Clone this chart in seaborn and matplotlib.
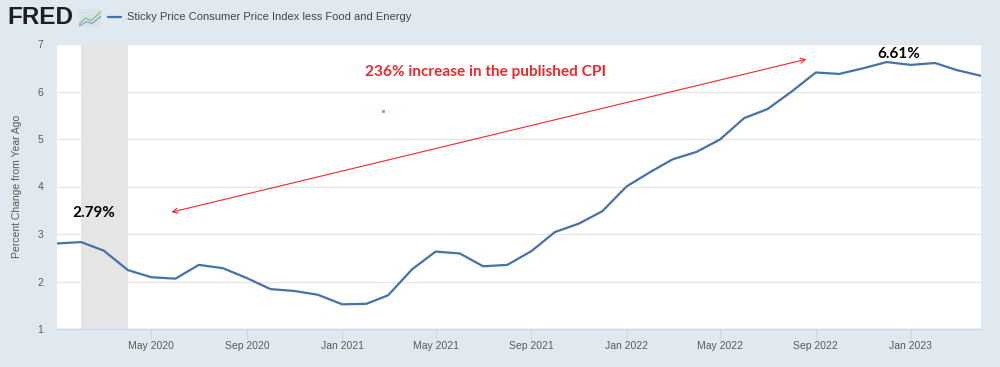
import matplotlib
matplotlib.use("Agg")
import matplotlib.pyplot as plt
import seaborn as sns
import pandas as pd

# ---------------- data ----------------
series_name = "Sticky Price Consumer Price Index less Food and Energy"
months = pd.date_range("2020-01-01", "2023-04-01", freq="MS")
values = [2.80, 2.83, 2.65, 2.24, 2.09, 2.06, 2.35, 2.28, 2.07, 1.84, 1.80, 1.72,
          1.52, 1.53, 1.71, 2.26, 2.63, 2.59, 2.32, 2.35, 2.64, 3.04, 3.22, 3.48,
          4.00, 4.31, 4.57, 4.73, 4.99, 5.44, 5.63, 6.00, 6.40, 6.37, 6.49, 6.62,
          6.56, 6.60, 6.45, 6.33]
tick_dates = pd.date_range("2020-05-01", "2023-01-01", freq="4MS")
tick_labels = [d.strftime("%b %Y") for d in tick_dates]
y_ticks = [1, 2, 3, 4, 5, 6, 7]
recession = (pd.Timestamp("2020-02-01"), pd.Timestamp("2020-04-01"))

headline = "236% increase in the published CPI"
headline_pos = (pd.Timestamp("2021-07-04"), 6.41)
arrow_start = (pd.Timestamp("2020-05-27"), 3.46)
arrow_end = (pd.Timestamp("2022-08-20"), 6.68)
low_label = ("2.79%", pd.Timestamp("2020-02-17"), 3.44)
high_label = ("6.61%", pd.Timestamp("2022-12-17"), 6.79)
stray_dot = (pd.Timestamp("2021-02-22"), 5.59)

df = pd.DataFrame({"date": months, "value": values})

# ---------------- style ----------------
sns.set_style("white")
plt.rcParams["font.family"] = ["Liberation Sans", "DejaVu Sans"]

bg = "#e1e9f0"
line_color = "#4572a7"
red = "#f0282d"

fig = plt.figure(figsize=(10, 3.67), dpi=100, facecolor=bg)
ax = fig.add_axes([0.057, 1 - 329 / 367, 0.981 - 0.057, (329 - 44) / 367])
ax.set_facecolor("white")

ax.axvspan(recession[0], recession[1], color="#e5e5e5", lw=0, zorder=0)

sns.lineplot(data=df, x="date", y="value", ax=ax, color=line_color,
             linewidth=1.6, label=series_name, zorder=3)

ax.set_xlim(months[0], months[-1])
ax.set_ylim(1, 7)
ax.set_yticks(y_ticks)
ax.set_yticklabels([str(v) for v in y_ticks])
ax.set_xticks(tick_dates)
ax.set_xticklabels(tick_labels)

ax.grid(axis="y", color="#e6e6e6", linewidth=1)
ax.grid(axis="x", visible=False)
for s in ["top", "left", "right"]:
    ax.spines[s].set_visible(False)
ax.spines["bottom"].set_color("#ccd6eb")
ax.spines["bottom"].set_linewidth(1)

ax.tick_params(axis="y", length=0, pad=10, labelsize=7.5, labelcolor="#5a5a5a")
ax.tick_params(axis="x", length=7, width=0.8, color="#ccd6eb", pad=1.5,
               labelsize=7.5, labelcolor="#5a5a5a", bottom=True)

ax.set_xlabel("")
ax.set_ylabel("Percent Change from Year Ago", fontsize=7.5, color="#5a5a5a")
ax.yaxis.set_label_coords(-0.0375, 0.5)

# legend placed like FRED's header
leg = ax.legend(loc="center left", bbox_to_anchor=(0.098, 1 - 17.5 / 367),
                bbox_transform=fig.transFigure, frameon=False,
                handlelength=1.15, handletextpad=0.6, fontsize=8)
for t in leg.get_texts():
    t.set_color("#444444")

# FRED logo
fig.text(0.007, 1 - 17 / 367, "FRED", fontsize=17.5, fontweight="heavy",
         color="#1f1f1f", va="center", ha="left")
icon = fig.add_axes([0.079, 1 - 27 / 367, 0.022, 18 / 367])
icon.set_facecolor("#d8e2ea")
icon.plot([0, 0.3, 0.55, 1], [0.15, 0.5, 0.35, 0.85], color="#8dbf6a", lw=0.9)
icon.plot([0, 0.35, 0.6, 1], [0.05, 0.3, 0.2, 0.6], color="#7fa3c9", lw=0.9)
icon.set_xlim(0, 1)
icon.set_ylim(0, 1)
icon.set_xticks([])
icon.set_yticks([])
for s in icon.spines.values():
    s.set_visible(False)

# annotations
bold_font = ["Lato", "DejaVu Sans"]
ax.text(headline_pos[0], headline_pos[1], headline, color=red, fontsize=11.1,
        fontweight="bold", family=bold_font, ha="center", va="center", zorder=5)
ax.annotate("", xy=arrow_start, xytext=arrow_end,
            arrowprops=dict(arrowstyle="<->", color=red, lw=0.8,
                            mutation_scale=9, shrinkA=0, shrinkB=0), zorder=5)
ax.text(low_label[1], low_label[2], low_label[0], color="black", fontsize=11,
        fontweight="bold", family=bold_font, ha="center", va="center", zorder=5)
ax.text(high_label[1], high_label[2], high_label[0], color="black", fontsize=11,
        fontweight="bold", family=bold_font, ha="center", va="center", zorder=5)
ax.plot([stray_dot[0]], [stray_dot[1]], marker="s", markersize=1.2,
        color="#f08080", zorder=5)

fig.savefig("out.png", dpi=100, facecolor=bg)
